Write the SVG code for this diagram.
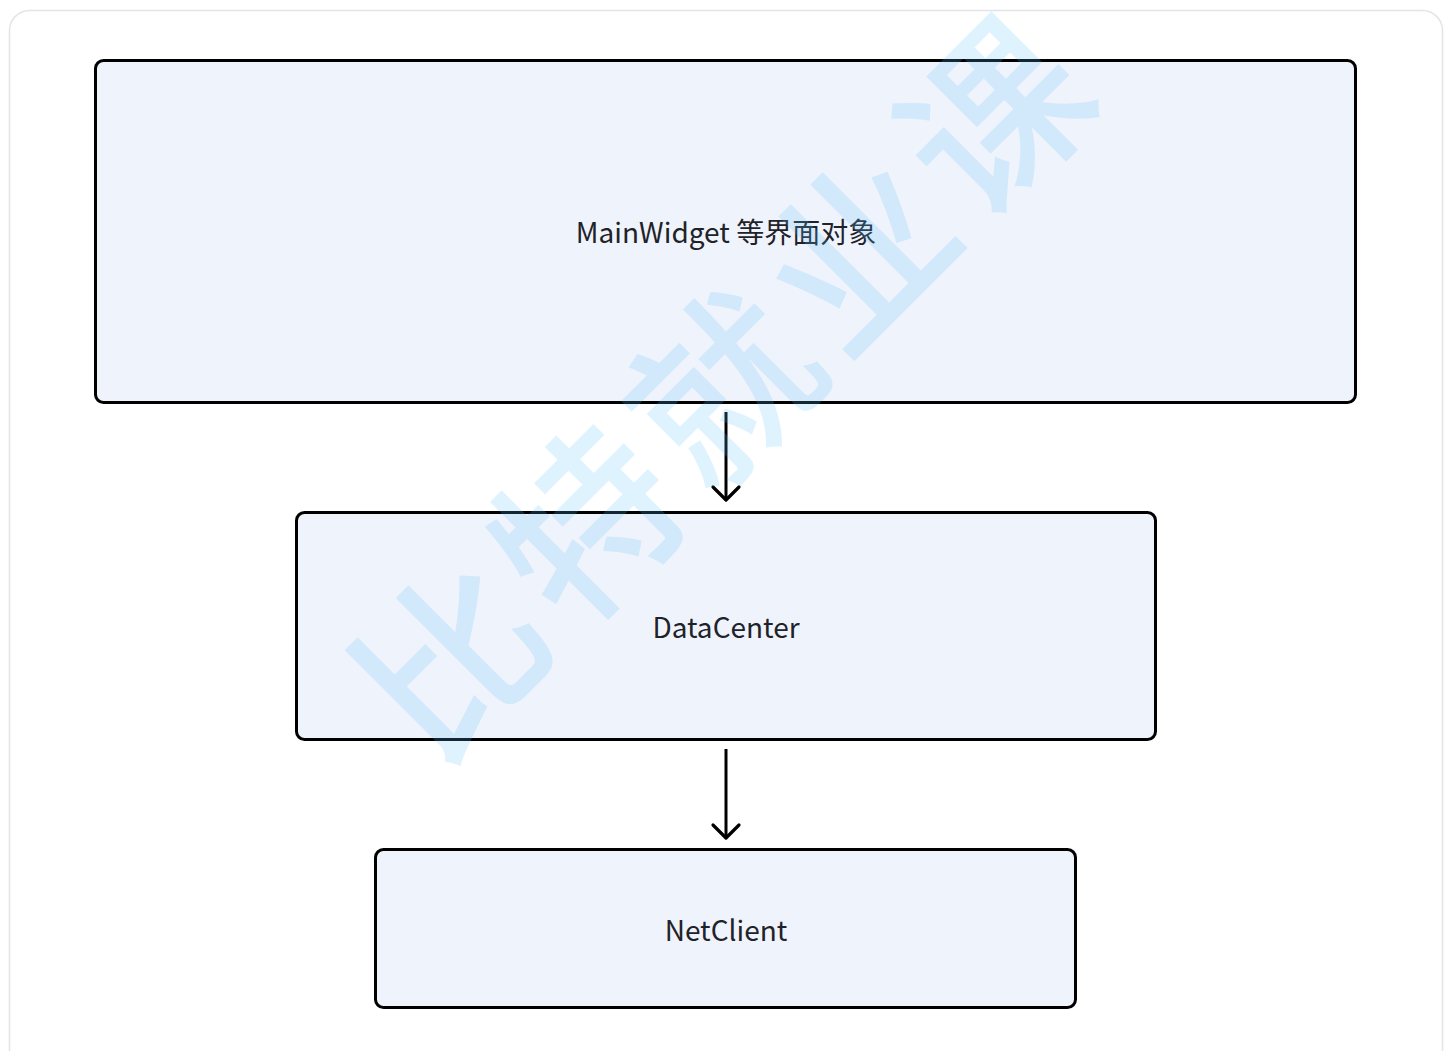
<svg xmlns="http://www.w3.org/2000/svg" width="1453" height="1051" viewBox="0 0 1453 1051">
  <defs>
    <style>
      .node rect { fill: #eff3fc; stroke: #000000; stroke-width: 3; }
      .node text { font-family: "Noto Sans CJK SC", "Noto Sans", sans-serif; font-size: 28px; fill: #1f2329; text-anchor: middle; }
      .edge { fill: none; stroke: #000000; stroke-width: 3; }
      .mark { font-family: "Noto Sans CJK SC", sans-serif; font-size: 180px; font-weight: 500; fill: #5ec4f8; fill-opacity: 0.2; text-anchor: middle; }
    </style>
    <marker id="arrow" viewBox="-4 -18 24 36" refX="15" refY="0" markerWidth="24" markerHeight="36" markerUnits="userSpaceOnUse" orient="auto" overflow="visible">
      <path d="M2,-13 L15,0 L2,13" fill="none" stroke="#000000" stroke-width="3.2" stroke-linecap="round" stroke-linejoin="round"/>
    </marker>
  </defs>

  <!-- page -->
  <rect x="0" y="0" width="1453" height="1051" fill="#ffffff"/>
  <rect x="9.5" y="10.5" width="1433" height="1070" rx="20" fill="#ffffff" stroke="#e4e4e6" stroke-width="1.5"/>

  <!-- nodes -->
  <g id="node-mainwidget" class="node">
    <rect x="95.5" y="60.5" width="1260" height="342" rx="8"/>
    <text x="726" y="243">MainWidget 等界面对象</text>
  </g>
  <g id="node-datacenter" class="node">
    <rect x="296.5" y="512.5" width="859" height="227" rx="8"/>
    <text x="726" y="638">DataCenter</text>
  </g>
  <g id="node-netclient" class="node">
    <rect x="375.5" y="849.5" width="700" height="158" rx="8"/>
    <text x="726" y="941">NetClient</text>
  </g>

  <!-- connectors -->
  <g id="connectors">
    <path class="edge" d="M726,412 L726,500" marker-end="url(#arrow)"/>
    <path class="edge" d="M726,749 L726,838" marker-end="url(#arrow)"/>
  </g>

  <!-- watermark -->
  <text class="mark" x="731" y="450" transform="rotate(-45 731 388)" letter-spacing="12">比特就业课</text>
</svg>
